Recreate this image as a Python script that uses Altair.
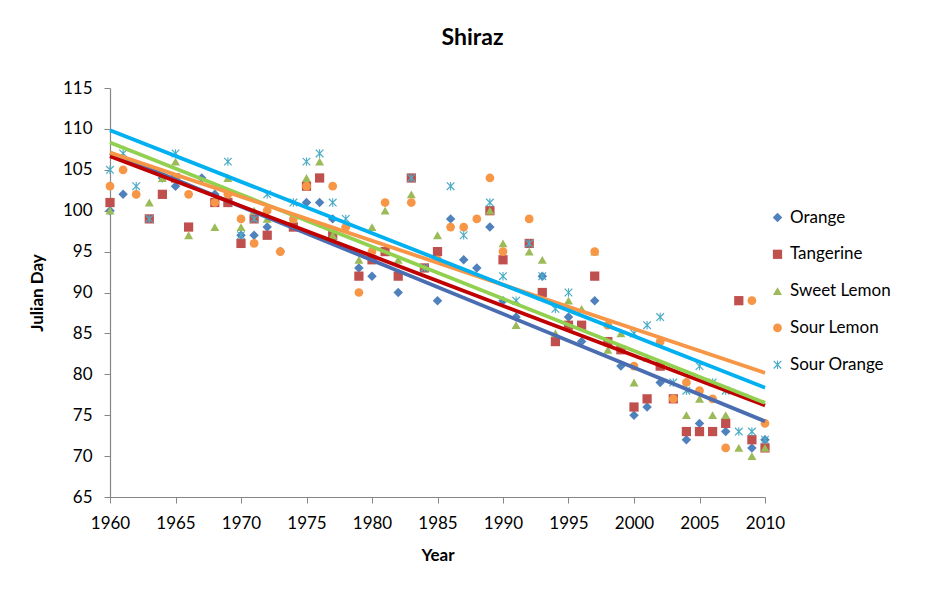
import altair as alt
import pandas as pd

series = ["Orange", "Tangerine", "Sweet Lemon", "Sour Lemon", "Sour Orange"]

orange_years = [1960, 1961, 1964, 1965, 1967, 1968, 1970, 1971, 1972, 1973, 1975, 1976, 1977, 1978,
                1979, 1980, 1982, 1985, 1986, 1987, 1988, 1989, 1990, 1991, 1993, 1995, 1996, 1997,
                1999, 2000, 2001, 2002, 2004, 2005, 2007, 2009, 2010]
orange_vals = [100, 102, 104, 103, 104, 102, 97, 97, 98, 95, 101, 101, 99, 98,
               93, 92, 90, 89, 99, 94, 93, 98, 89, 87, 92, 87, 84, 89,
               81, 75, 76, 79, 72, 74, 73, 71, 72]

tangerine_years = [1960, 1963, 1964, 1965, 1966, 1968, 1969, 1970, 1971, 1972, 1974, 1975, 1976, 1977,
                   1979, 1980, 1981, 1982, 1983, 1984, 1985, 1989, 1990, 1992, 1993, 1994, 1995, 1996,
                   1997, 1998, 1999, 2000, 2001, 2002, 2003, 2004, 2005, 2006, 2007, 2008, 2009, 2010]
tangerine_vals = [101, 99, 102, 104, 98, 101, 101, 96, 99, 97, 98, 103, 104, 97,
                  92, 94, 95, 92, 104, 93, 95, 100, 94, 96, 90, 84, 86, 86,
                  92, 84, 83, 76, 77, 81, 77, 73, 73, 73, 74, 89, 72, 71]

sweet_years = [1960, 1963, 1964, 1965, 1966, 1968, 1969, 1970, 1971, 1972, 1974, 1975, 1976, 1977,
               1979, 1980, 1981, 1982, 1983, 1985, 1989, 1990, 1991, 1992, 1993, 1994, 1995, 1996,
               1997, 1998, 1999, 2000, 2001, 2004, 2005, 2006, 2007, 2008, 2009, 2010]
sweet_vals = [100, 101, 104, 106, 97, 98, 104, 98, 100, 99, 99, 104, 106, 97,
              94, 98, 100, 94, 102, 97, 100, 96, 86, 95, 94, 85, 89, 88,
              95, 83, 85, 79, 82, 75, 77, 75, 75, 71, 70, 71]

sourlemon_years = [1960, 1961, 1962, 1965, 1966, 1968, 1969, 1970, 1971, 1972, 1973, 1974, 1975, 1977,
                   1978, 1979, 1980, 1981, 1983, 1985, 1986, 1987, 1988, 1989, 1990, 1992, 1997, 1998,
                   2000, 2002, 2003, 2004, 2005, 2006, 2007, 2009, 2010]
sourlemon_vals = [103, 105, 102, 104, 102, 101, 102, 99, 96, 100, 95, 99, 103, 103,
                  98, 90, 95, 101, 101, 94, 98, 98, 99, 104, 95, 99, 95, 86,
                  81, 84, 77, 79, 78, 77, 71, 89, 74]

sourorange_years = [1960, 1961, 1962, 1963, 1965, 1969, 1970, 1971, 1972, 1974, 1975, 1976, 1977, 1978,
                    1983, 1984, 1986, 1987, 1989, 1990, 1991, 1992, 1993, 1994, 1995, 2000, 2001, 2002,
                    2003, 2004, 2005, 2006, 2007, 2008, 2009, 2010]
sourorange_vals = [105, 107, 103, 99, 107, 106, 97, 99, 102, 101, 106, 107, 101, 99,
                   104, 93, 103, 97, 101, 92, 89, 96, 92, 88, 90, 85, 86, 87,
                   79, 78, 81, 79, 78, 73, 73, 72]

x_ticks = list(range(1960, 2011, 5))
y_ticks = list(range(65, 116, 5))

marker_colors = ["#4F81BD", "#C0504D", "#9BBB59", "#F79646", "#4BACC6"]
line_colors = ["#4A6DB2", "#C00000", "#92D050", "#F79646", "#00B0F0"]
star = ("M-1,-0.8L-0.8,-1L1,0.8L0.8,1Z M0.8,-1L1,-0.8L-0.8,1L-1,0.8Z "
        "M-0.13,-1L0.13,-1L0.13,1L-0.13,1Z")
shapes = ["diamond", "square", "triangle-up", "circle", star]
sizes = [90, 72, 85, 62, 85]

rows = []
for name, yrs, vals in zip(series,
                           [orange_years, tangerine_years, sweet_years, sourlemon_years, sourorange_years],
                           [orange_vals, tangerine_vals, sweet_vals, sourlemon_vals, sourorange_vals]):
    for yr, v in zip(yrs, vals):
        rows.append({"series": name, "year": yr, "day": v, "order": series.index(name)})
df = pd.DataFrame(rows)

FONT = "Lato"

x_enc = alt.X("year:Q",
              scale=alt.Scale(domain=[1960, 2010], nice=False, zero=False),
              axis=alt.Axis(values=x_ticks, format="d", title="Year", grid=False,
                            tickSize=6, labelPadding=12, titlePadding=16,
                            labelFlush=False, labelOverlap=False))
y_enc = alt.Y("day:Q",
              scale=alt.Scale(domain=[65, 115], nice=False, zero=False),
              axis=alt.Axis(values=y_ticks, title="Julian Day", grid=False,
                            tickSize=6, labelPadding=12, titlePadding=16,
                            labelFlush=False, labelOverlap=False))

points = alt.Chart(df).mark_point(filled=True, opacity=1).encode(
    x=x_enc,
    y=y_enc,
    color=alt.Color("series:N", scale=alt.Scale(domain=series, range=marker_colors),
                    legend=alt.Legend(title=None)),
    shape=alt.Shape("series:N", scale=alt.Scale(domain=series, range=shapes),
                    legend=alt.Legend(title=None)),
    size=alt.Size("series:N", scale=alt.Scale(domain=series, range=sizes), legend=None),
    order=alt.Order("order:Q"),
)

lines = alt.Chart(df).transform_regression(
    "year", "day", groupby=["series"], extent=[1960, 2010]
).mark_line(strokeWidth=3.8).encode(
    x="year:Q",
    y="day:Q",
    stroke=alt.Stroke("series:N", scale=alt.Scale(domain=series, range=line_colors), legend=None),
)

chart = alt.layer(points, lines).properties(
    width=655,
    height=409,
    background="white",
    autosize=alt.AutoSizeParams(type="none"),
    padding={"left": 102, "top": 80, "right": 174, "bottom": 88},
    title=alt.TitleParams("Shiraz", font=FONT, fontSize=23, fontWeight="bold", color="#000000",
                          anchor="middle", frame="group", dx=35, offset=29),
).configure_view(stroke=None).configure_axis(
    domainColor="#868686", tickColor="#868686", labelFont=FONT, labelFontSize=17,
    labelColor="#000000", titleFont=FONT, titleFontSize=17, titleFontWeight="bold",
    titleColor="#000000", domainWidth=1.2,
).configure_legend(
    orient="none", legendX=659, legendY=121, labelFontSize=17, labelFont=FONT,
    symbolSize=55, rowPadding=18.8, labelOffset=4, labelColor="#000000",
    symbolOpacity=1, symbolStrokeWidth=0,
)

chart.save("out.html", embed_options={"renderer": "svg", "actions": False})
